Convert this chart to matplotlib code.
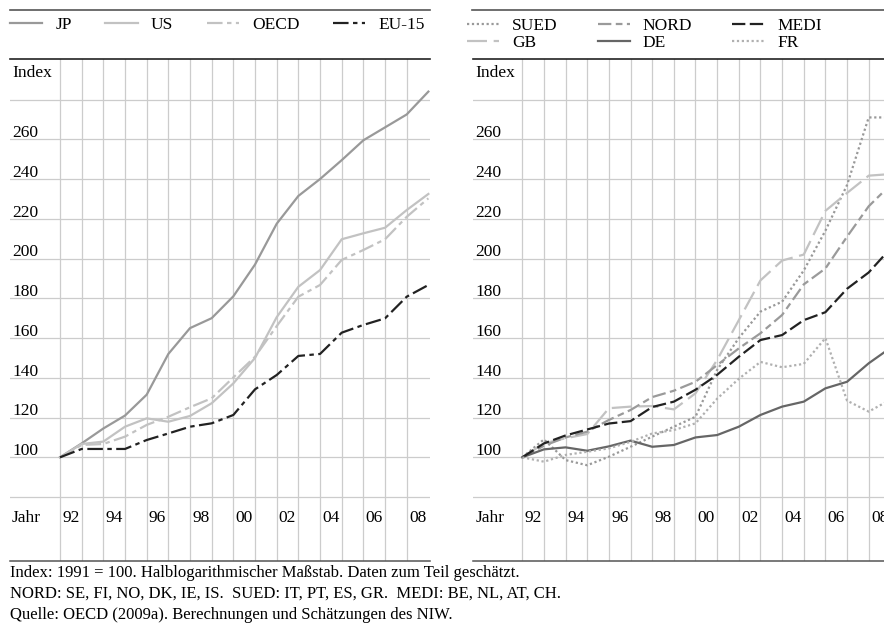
import matplotlib
matplotlib.use('Agg')
import matplotlib.pyplot as plt
from matplotlib.lines import Line2D
from matplotlib.transforms import blended_transform_factory

plt.rcParams['font.family'] = ['Liberation Serif', 'DejaVu Serif']
plt.rcParams['font.size'] = 12.5

years = list(range(1991, 2009))
year_labels = ['92', '94', '96', '98', '00', '02', '04', '06', '08']
y_labels = [100, 120, 140, 160, 180, 200, 220, 240, 260]
y_grid = [80, 100, 120, 140, 160, 180, 200, 220, 240, 260, 280]

# linkes Bild
jp = [100, 107, 114.5, 121, 131.5, 152, 165, 170, 181, 197, 217.5, 231.5, 240, 249.5, 259.5, 266, 272.5, 284]
us = [100, 106.7, 107.9, 115.4, 119.6, 117.9, 120.8, 127.2, 137.2, 150, 170.5, 185.8, 194.2, 209.7, 212.7, 215.5, 224.4, 232.5]
oecd = [100, 106.2, 106.7, 110.4, 116.3, 120.4, 125.2, 129.7, 140.2, 150.6, 166, 180.8, 186.7, 199.3, 204.3, 209.7, 221, 230.3]
eu15 = [100, 104.2, 104.2, 104.2, 108.7, 112, 115.4, 117.1, 121.3, 134.2, 141.4, 151, 152, 162.7, 166.6, 169.9, 180.8, 186.7]

# rechtes Bild
sued = [100, 109, 98.6, 96, 100.3, 105.3, 110.4, 115.4, 120.4, 144, 160, 173.3, 178.3, 194, 214, 237, 271, 271]
gb = [100, 107, 109.6, 111.7, 124.7, 125.5, 125.8, 124.1, 132.2, 149, 169, 189, 199, 202, 224, 233, 241.7, 242.5]
nord = [100, 105.8, 110, 112.9, 118.8, 123.8, 130.3, 133.5, 138, 146.4, 154.8, 162.4, 171.6, 187, 195, 211, 226.3, 237]
de = [100, 104, 105, 103.3, 105.5, 108.4, 105.3, 106.2, 110, 111.2, 115.4, 121.3, 125.5, 128, 134.7, 138, 147.3, 155]
medi = [100, 107, 111, 114, 117, 118.2, 125.3, 128, 134, 141.5, 150.6, 159, 161.5, 169, 173, 184.8, 193, 205]
fr = [100, 97.8, 101.2, 102.8, 104.5, 107.8, 112, 113.7, 117.1, 129.5, 139.5, 148, 145.3, 147, 160, 128.5, 123, 129]

notes = [
    'Index: 1991 = 100. Halblogarithmischer Maßstab. Daten zum Teil geschätzt.',
    'NORD: SE, FI, NO, DK, IE, IS.  SUED: IT, PT, ES, GR.  MEDI: BE, NL, AT, CH.',
    'Quelle: OECD (2009a). Berechnungen und Schätzungen des NIW.',
]

W, H = 884, 624
fig = plt.figure(figsize=(W / 100, H / 100), dpi=100)


def px_rect(x0, y0, x1, y1):
    return [x0 / W, 1 - y1 / H, (x1 - x0) / W, (y1 - y0) / H]


ax1 = fig.add_axes(px_rect(10, 59, 430, 561))
ax2 = fig.add_axes(px_rect(473, 59, 900, 561))

grid_c = '#cccccc'
for ax, xl in [(ax1, (1988.693, 2008.075)), (ax2, (1988.723, 2008.446))]:
    ax.set_xlim(*xl)
    ax.set_ylim(47.83, 300.4)
    ax.set_xticks(years[:-1])
    ax.set_yticks(y_grid)
    ax.tick_params(length=0, labelbottom=False, labelleft=False)
    ax.grid(True, color=grid_c, lw=0.9)
    for s in ['left', 'right']:
        ax.spines[s].set_visible(False)
    ax.spines['top'].set_color('#222222')
    ax.spines['top'].set_linewidth(1.2)
    ax.spines['bottom'].set_color('#555555')
    ax.spines['bottom'].set_linewidth(1.1)
    tr = blended_transform_factory(ax.transAxes, ax.transData)
    for v in y_labels:
        ax.annotate(str(v), (0.005, v), xycoords=tr, xytext=(0, 1.5),
                    textcoords='offset points', va='baseline', ha='left')
    ax.text(0.005, 0.9636, 'Index', transform=ax.transAxes, va='baseline', ha='left')
    ax.text(0.005, 0.0777, 'Jahr', transform=ax.transAxes, va='baseline', ha='left')
    trx = blended_transform_factory(ax.transData, ax.transAxes)
    for i, lab in enumerate(year_labels):
        ax.text(1991.5 + 2 * i, 0.0777, lab, transform=trx, va='baseline', ha='center')

lw = 1.6
ax1.plot(years, jp, color='#999999', lw=lw, label='JP')
ax1.plot(years, us, color='#c2c2c2', lw=lw, label='US')
ax1.plot(years, oecd, color='#c2c2c2', lw=lw, ls=(0, (7, 2, 2, 2)), label='OECD')
ax1.plot(years, eu15, color='#222222', lw=lw, ls=(0, (7, 2, 2, 2)), label='EU-15')

ax2.plot(years, sued, color='#999999', lw=lw, ls=(0, (1, 1.2)), label='SUED')
ax2.plot(years, gb, color='#c2c2c2', lw=lw, ls=(0, (9, 3)), label='GB')
ax2.plot(years, nord, color='#9a9a9a', lw=lw, ls=(0, (6, 2, 3, 2)), label='NORD')
ax2.plot(years, de, color='#666666', lw=lw, label='DE')
ax2.plot(years, medi, color='#222222', lw=lw, ls=(0, (6, 2)), label='MEDI')
ax2.plot(years, fr, color='#b0b0b0', lw=lw, ls=(0, (1, 1.2)), label='FR')

ax1.legend(loc='center left', bbox_to_anchor=(0.0, 1.0677), ncol=4, frameon=False,
           borderpad=0, borderaxespad=0, handlelength=1.85, handletextpad=0.75,
           columnspacing=1.95)
ax2.legend(loc='center left', bbox_to_anchor=(-0.014, 1.0488), ncol=3, frameon=False,
           borderpad=0, borderaxespad=0, handlelength=1.85, handletextpad=0.75,
           columnspacing=2.3, labelspacing=0.05)

fig.add_artist(Line2D([10 / W, 430 / W], [1 - 10 / H] * 2, color='#555555', lw=1.2))
fig.add_artist(Line2D([472 / W, 1.0], [1 - 10 / H] * 2, color='#555555', lw=1.2))

for i, t in enumerate(notes):
    fig.text(10 / W, 1 - (573 + 21 * i) / H, t, va='center', ha='left', fontsize=12)

fig.savefig('out.png', dpi=100)
